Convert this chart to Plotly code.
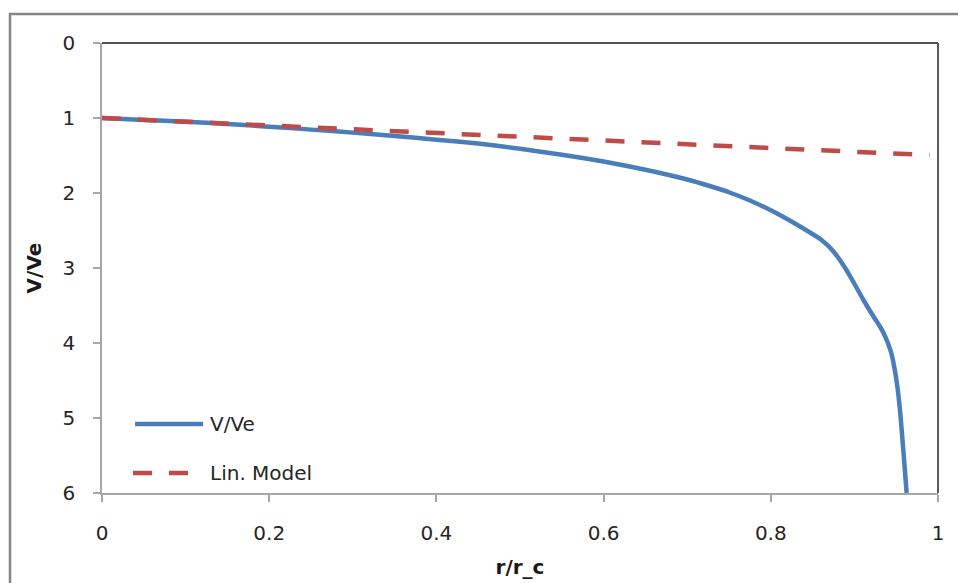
import plotly.graph_objects as go

# Data
r_blue = [0, 0.05, 0.1, 0.15, 0.2, 0.25, 0.3, 0.35, 0.4, 0.45, 0.5, 0.55, 0.6,
          0.65, 0.7, 0.725, 0.75, 0.775, 0.8, 0.82, 0.84, 0.86, 0.875, 0.889, 0.9, 0.911, 0.923,
          0.93, 0.935, 0.94, 0.944, 0.947, 0.951, 0.955, 0.9585, 0.9625]
v_blue = [1.0, 1.025, 1.05, 1.08, 1.115, 1.155, 1.195, 1.24, 1.29, 1.34, 1.41, 1.49, 1.58,
          1.69, 1.82, 1.9, 1.99, 2.1, 2.23, 2.35, 2.48, 2.62, 2.78, 3.0, 3.21, 3.43, 3.65,
          3.77, 3.87, 4.0, 4.13, 4.28, 4.55, 4.95, 5.43, 6.0]
r_lin = [0, 0.99]
v_lin = [1.0, 1.495]

x_ticks = [0, 0.2, 0.4, 0.6, 0.8, 1]
x_labels = ["0", "0.2", "0.4", "0.6", "0.8", "1"]
y_ticks = [0, 1, 2, 3, 4, 5, 6]

BLUE = "#4a7ebb"
RED = "#be4b48"
FONT = "DejaVu Sans"
TXT = "#262626"

fig = go.Figure()
fig.add_trace(go.Scatter(x=r_blue, y=v_blue, mode="lines", name="V/Ve",
                         line=dict(color=BLUE, width=4.5, shape="spline", smoothing=0.5),
                         showlegend=False))
fig.add_trace(go.Scatter(x=r_lin, y=v_lin, mode="lines", name="Lin. Model",
                         line=dict(color=RED, width=4.5, dash="19px,17px"),
                         showlegend=False))

W, H = 958, 583
L, R, T, B = 102, 20, 43, 90
pw, ph = W - L - R, H - T - B

def px(xp):
    return (xp - L) / pw

def py(yp):
    return (H - B - yp) / ph

shapes = [
    # outer chart border
    dict(type="rect", xref="paper", yref="paper", x0=px(10), x1=px(975), y0=py(14), y1=py(600),
         line=dict(color="#878787", width=2.5), layer="below"),
    # top and right frame lines
    dict(type="line", xref="paper", yref="paper", x0=0, x1=1, y0=1, y1=1,
         line=dict(color="#1a1a1a", width=1.5)),
    dict(type="line", xref="paper", yref="paper", x0=1, x1=1, y0=0, y1=1,
         line=dict(color="#595959", width=2)),
    # legend samples
    dict(type="line", xref="paper", yref="paper", x0=px(135), x1=px(203), y0=py(424), y1=py(424),
         line=dict(color=BLUE, width=4.5)),
    dict(type="line", xref="paper", yref="paper", x0=px(133), x1=px(188), y0=py(473), y1=py(473),
         line=dict(color=RED, width=4.5, dash="19px,17px")),
]

annotations = [
    dict(text="V/Ve", xref="paper", yref="paper", x=px(208), y=py(424), xanchor="left",
         yanchor="middle", showarrow=False, font=dict(family=FONT, size=20, color=TXT)),
    dict(text="Lin. Model", xref="paper", yref="paper", x=px(208), y=py(473), xanchor="left",
         yanchor="middle", showarrow=False, font=dict(family=FONT, size=20, color=TXT)),
]

fig.update_layout(
    width=W, height=H,
    margin=dict(l=L, r=R, t=T, b=B),
    paper_bgcolor="white", plot_bgcolor="white",
    font=dict(family=FONT, size=20, color=TXT),
    shapes=shapes, annotations=annotations,
    xaxis=dict(range=[0, 1], tickvals=x_ticks, ticktext=x_labels, automargin=False,
               showgrid=False, zeroline=False, showline=True, linecolor="#a6a6a6", linewidth=2,
               ticks="outside", ticklen=7, tickcolor="#a6a6a6", tickwidth=1.5,
               ticklabelstandoff=14,
               title=dict(text="<b>r/r_c</b>", font=dict(family=FONT, size=20, color="#1a1a1a"), standoff=16)),
    yaxis=dict(range=[6, 0], tickvals=y_ticks, showgrid=False, zeroline=False, automargin=False,
               showline=True, linecolor="#a6a6a6", linewidth=1.5,
               ticks="outside", ticklen=7, tickcolor="#a6a6a6", tickwidth=1.5,
               ticklabelstandoff=14,
               title=dict(text="<b>V/Ve</b>", font=dict(family=FONT, size=20, color="#1a1a1a"), standoff=16)),
)

fig.write_html("out.html")
